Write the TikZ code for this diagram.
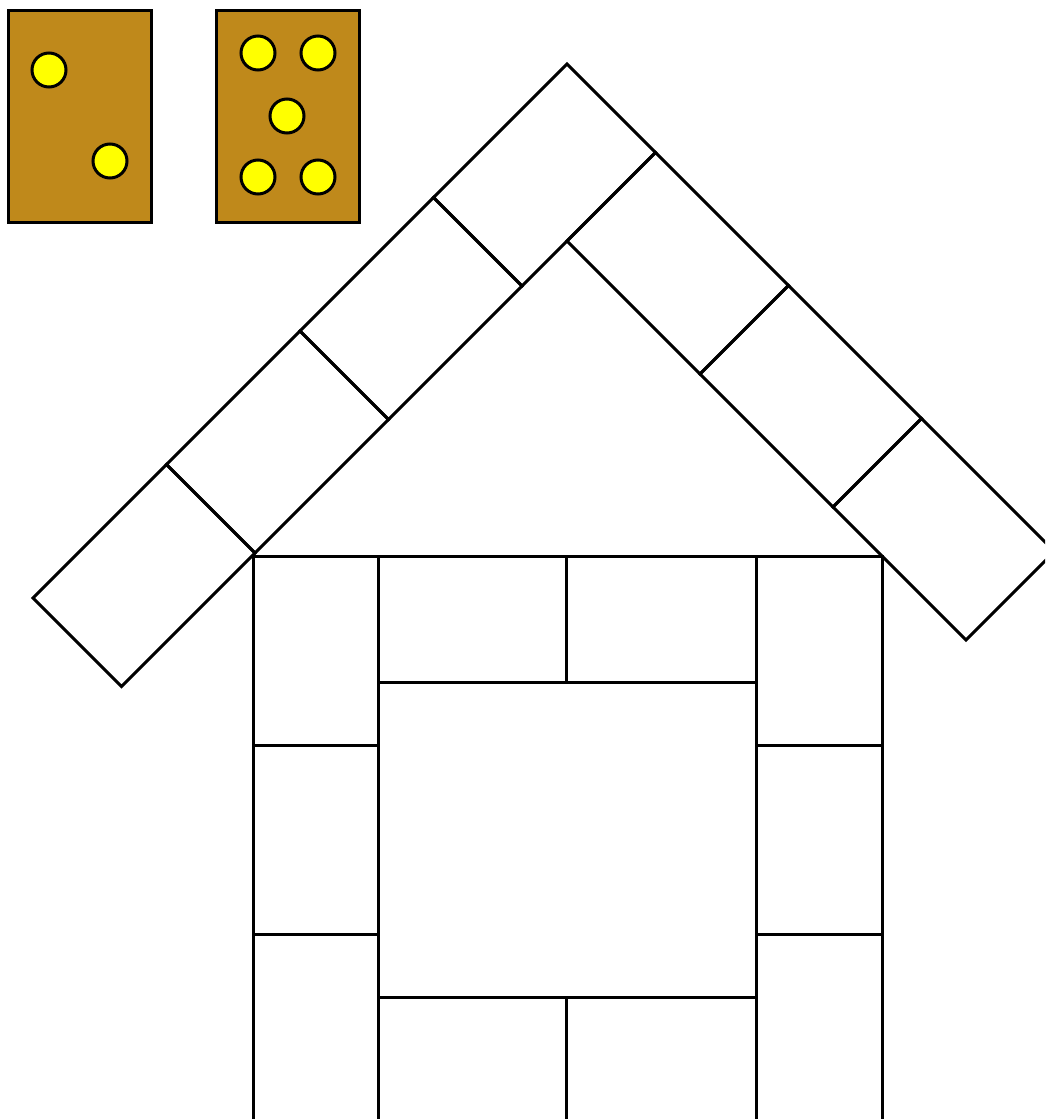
\documentclass[tikz,border=0pt]{standalone}
\definecolor{cardbrown}{RGB}{191,137,27}
\definecolor{dotyellow}{RGB}{255,255,0}
\tikzset{
  brick/.style={draw=black,line width=3pt,line join=miter},
  card/.style={draw=black,line width=3pt,fill=cardbrown},
  pip/.style={draw=black,line width=3pt,fill=dotyellow}
}
\begin{document}
\begin{tikzpicture}[x=1pt,y=-1pt]
\useasboundingbox[fill=white] (0,0) rectangle (1045,1119);
\clip (0,0) rectangle (1045,1119);
% dominoes
\draw[card] (8,10) rectangle (151,222);
\draw[pip] (49,70) circle (17);
\draw[pip] (110,161) circle (17);
\draw[card] (216,10) rectangle (359,222);
\foreach \px/\py in {258/53,318/53,287/116,258/177,318/177}
  \draw[pip] (\px,\py) circle (17);
% roof, left arm
\foreach \i in {0,1,2,3}{
  \draw[brick] ({567-133.5*\i},{64+133.5*\i}) -- ({567-133.5*(\i+1)},{64+133.5*(\i+1)})
    -- ({567-133.5*(\i+1)+88.5},{64+133.5*(\i+1)+88.5}) -- ({567-133.5*\i+88.5},{64+133.5*\i+88.5}) -- cycle;
}
% roof, right arm
\foreach \j in {0,1,2}{
  \draw[brick] ({655.5+133*\j},{152.5+133*\j}) -- ({655.5+133*(\j+1)},{152.5+133*(\j+1)})
    -- ({655.5+133*(\j+1)-88.5},{152.5+133*(\j+1)+88.5}) -- ({655.5+133*\j-88.5},{152.5+133*\j+88.5}) -- cycle;
}
% walls
\foreach \y in {556,745,934}{
  \draw[brick] (253,\y) rectangle (378,\y+189);
  \draw[brick] (756,\y) rectangle (882,\y+189);
}
\draw[brick] (378,556) rectangle (566,682);
\draw[brick] (566,556) rectangle (756,682);
\draw[brick] (378,682) rectangle (756,997);
\draw[brick] (378,997) rectangle (566,1123);
\draw[brick] (566,997) rectangle (756,1123);
\end{tikzpicture}
\end{document}
